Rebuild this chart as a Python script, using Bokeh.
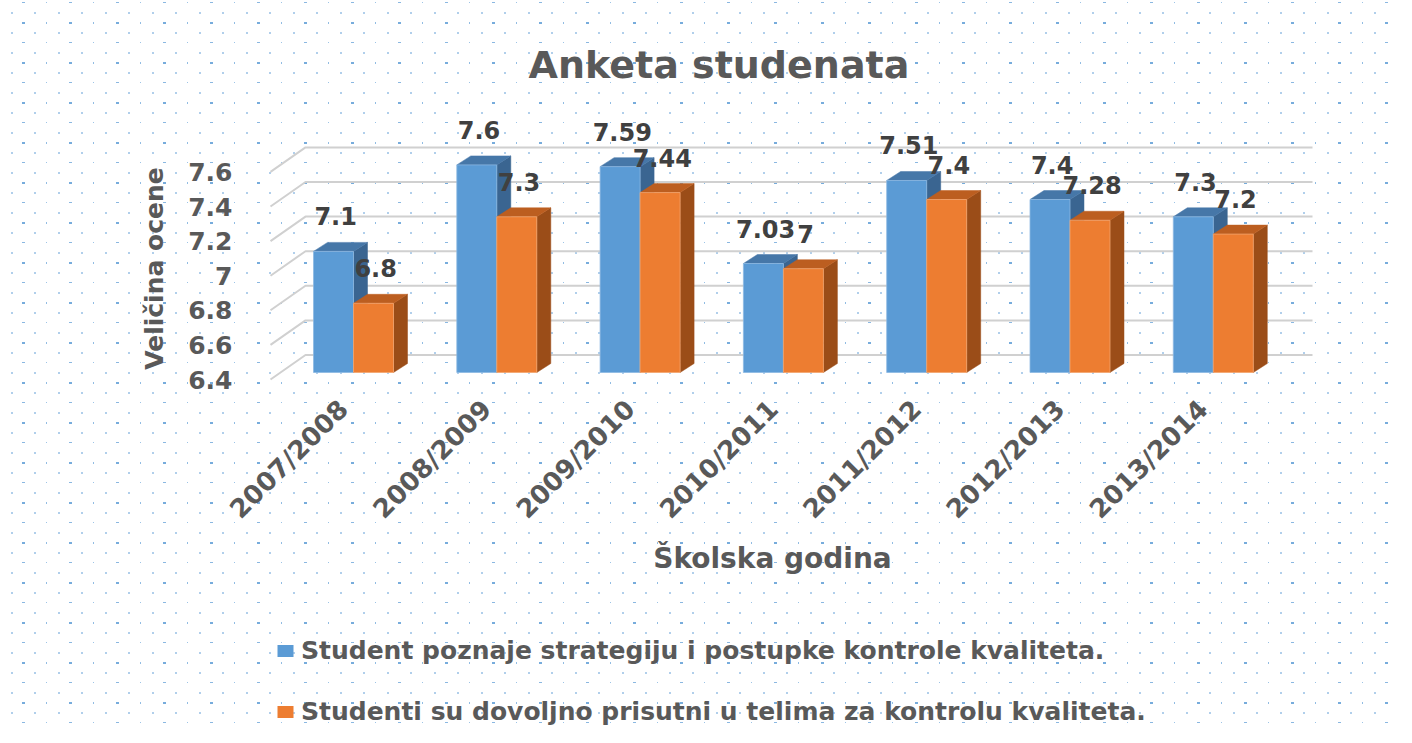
import math, zlib, struct, base64
from bokeh.plotting import figure
from bokeh.layouts import column
from bokeh.models import (Range1d, LinearAxis, FixedTicker, Legend, LegendItem, LabelSet,
                          ColumnDataSource)
from bokeh.core.properties import value
from bokeh.embed import file_html
from bokeh.resources import INLINE

# ---------------- data ----------------
years = ["2007/2008", "2008/2009", "2009/2010", "2010/2011", "2011/2012", "2012/2013", "2013/2014"]
blue_vals = [7.1, 7.6, 7.59, 7.03, 7.51, 7.4, 7.3]
orange_vals = [6.8, 7.3, 7.44, 7.0, 7.4, 7.28, 7.2]
y_ticks = [6.4, 6.6, 6.8, 7.0, 7.2, 7.4, 7.6]
y_tick_labels = ["6.4", "6.6", "6.8", "7", "7.2", "7.4", "7.6"]
series_names = ["Student poznaje strategiju i postupke kontrole kvaliteta.",
                "Studenti su dovoljno prisutni u telima za kontrolu kvaliteta."]
chart_title = "Anketa studenata"
x_title = "Školska godina"
y_title = "Veličina ocene"

# ---------------- style ----------------
FONT = "DejaVu Sans"
TXT = "#595959"
LBL = "#404040"
BLUE, BLUE_TOP, BLUE_SIDE = "#5B9BD5", "#4677A8", "#3A6591"
ORANGE, ORANGE_TOP, ORANGE_SIDE = "#ED7D31", "#BC5E20", "#9B4D18"
BASE = 6.4
PX_X, PX_Y = 143.3, 173.0          # pixels per data unit
BAR_W = 40 / PX_X
DX, DY = 14 / PX_X, 9 / PX_Y       # bar depth
BACK_DY = 17.5 / PX_Y              # back wall offset
PLANE_DY = 7 / PX_Y                # label plane offset
WALL_FX, WALL_BX, WALL_RX = -83 / PX_X, -48 / PX_X, 959 / PX_X

W, H1, H2 = 1396, 600, 127
FL, FR, FT, FB = 224, 1320, 110, 426       # frame edges in pixels
x0r, x1r = (FL - 353) / PX_X, (FR - 353) / PX_X
y0r, y1r = BASE - (FB - 372) / PX_Y, BASE + (372 - FT) / PX_Y

# dotted background (css texture behind the transparent canvas)
def dot_tile():
    tw, th = 47, 40
    px = [[(255, 255, 255, 255)] * tw for _ in range(th)]
    def put(x, y, w, h, a):
        for yy in range(y, y + h):
            for xx in range(x, x + w):
                k = a / 255
                px[yy % th][xx % tw] = tuple(int(255 * (1 - k) + c * k) for c in (91, 155, 213)) + (255,)
    for yy in (12, 32):
        put(11, yy, 2, 2, 120); put(34, yy, 2, 2, 120)
    put(22, 22, 3, 2, 210); put(46, 22, 1, 2, 170)
    put(22, 2, 3, 1, 180); put(46, 2, 1, 1, 150)
    raw = b"".join(b"\x00" + bytes([c for pix in row for c in pix]) for row in px)
    def chunk(t, d):
        return struct.pack(">I", len(d)) + t + d + struct.pack(">I", zlib.crc32(t + d) & 0xffffffff)
    png = (b"\x89PNG\r\n\x1a\n" + chunk(b"IHDR", struct.pack(">IIBBBBB", tw, th, 8, 6, 0, 0, 0))
           + chunk(b"IDAT", zlib.compress(raw)) + chunk(b"IEND", b""))
    return "data:image/png;base64," + base64.b64encode(png).decode()

BG = {"background-color": "white", "background-image": f"url('{dot_tile()}')",
      "background-repeat": "repeat"}

p = figure(width=W, height=H1, output_backend="svg", toolbar_location=None,
           x_range=Range1d(x0r, x1r), y_range=Range1d(y0r, y1r),
           y_axis_location=None, min_border_left=FL, min_border_right=W - FR,
           min_border_top=FT, min_border_bottom=H1 - FB)
p.outline_line_color = None
p.grid.visible = False
p.background_fill_color = None
p.border_fill_color = None
p.styles = BG

# 3D gridlines (back wall + left wall)
p.multi_line(xs=[[WALL_FX, WALL_BX, WALL_RX] for _ in y_ticks],
             ys=[[t - PLANE_DY, t + BACK_DY, t + BACK_DY] for t in y_ticks],
             line_color="#D0D0D0", line_width=2)

xs = list(range(len(years)))

def bars(vals, offset, front, top, side, edge):
    lefts = [x + offset for x in xs]
    rights = [l + BAR_W for l in lefts]
    p.patches(xs=[[r, r + DX, r + DX, r] for r in rights],
              ys=[[BASE, BASE + DY, v + DY, v] for v in vals],
              fill_color=side, line_color=side, line_width=0.5)
    p.patches(xs=[[l, r, r + DX, l + DX] for l, r in zip(lefts, rights)],
              ys=[[v, v, v + DY, v + DY] for v in vals],
              fill_color=top, line_color=top, line_width=0.5)
    p.quad(left=lefts, right=rights, bottom=[BASE] * len(vals), top=vals,
           fill_color=front, line_color=edge, line_width=0.8)
    return ColumnDataSource(dict(x=[l + BAR_W / 2 + 0.015 for l in lefts],
                                 y=[v + DY + 17 / PX_Y for v in vals],
                                 t=[f"{v:g}" for v in vals]))

s_blue = bars(blue_vals, -BAR_W, BLUE, BLUE_TOP, BLUE_SIDE, "#8DB9E2")
s_orange = bars(orange_vals, 0, ORANGE, ORANGE_TOP, ORANGE_SIDE, "#F3A46F")

for s in (s_blue, s_orange):
    p.add_layout(LabelSet(x="x", y="y", text="t", source=s, text_align="center",
                          text_baseline="alphabetic", text_font=value(FONT), text_font_style="bold",
                          text_font_size="24px", text_color=LBL))

# axes
p.extra_x_ranges = {"xlab": Range1d(x0r + 10 / PX_X, x1r + 10 / PX_X)}
ax = p.xaxis[0]
ax.x_range_name = "xlab"
ax.ticker = FixedTicker(ticks=xs)
ax.major_label_overrides = {i: y for i, y in enumerate(years)}
ax.major_label_orientation = math.pi / 4
ax.axis_line_color = None
ax.major_tick_line_color = None
ax.minor_tick_line_color = None
ax.major_label_standoff = -28
ax.major_label_text_font = FONT
ax.major_label_text_font_style = "bold"
ax.major_label_text_font_size = "26px"
ax.major_label_text_color = TXT
ax.axis_label = x_title
ax.axis_label_text_font = FONT
ax.axis_label_text_font_style = "bold"
ax.axis_label_text_font_size = "28px"
ax.axis_label_text_color = TXT
ax.axis_label_standoff = 4

p.extra_y_ranges = {"lab": Range1d(y0r + PLANE_DY, y1r + PLANE_DY)}
yax = LinearAxis(y_range_name="lab", ticker=FixedTicker(ticks=y_ticks),
                 major_label_overrides={t: l for t, l in zip(y_ticks, y_tick_labels)})
yax.axis_line_color = None
yax.major_tick_line_color = None
yax.minor_tick_line_color = None
yax.major_label_standoff = FL - 238
yax.major_label_text_font = FONT
yax.major_label_text_font_style = "bold"
yax.major_label_text_font_size = "25px"
yax.major_label_text_color = TXT
yax.axis_label = y_title
yax.axis_label_text_font = FONT
yax.axis_label_text_font_style = "bold"
yax.axis_label_text_font_size = "25px"
yax.axis_label_text_color = TXT
yax.axis_label_standoff = 16
p.add_layout(yax, "left")

# title
p.title.text = chart_title
p.title.align = "left"
p.title.offset = 304
p.title.standoff = 48
p.title.text_font = FONT
p.title.text_font_style = "bold"
p.title.text_font_size = "38px"
p.title.text_color = TXT

# legend strip
pl = figure(width=W, height=H2, output_backend="svg", toolbar_location=None,
            x_range=Range1d(0, 1), y_range=Range1d(0, 1),
            x_axis_location=None, y_axis_location=None,
            min_border_left=FL, min_border_right=W - FR, min_border_top=0, min_border_bottom=0)
pl.outline_line_color = None
pl.grid.visible = False
pl.background_fill_color = None
pl.border_fill_color = None
pl.styles = BG
# zero-size proxies that carry the series colours into the legend
lb = pl.quad(left=[0], right=[0], top=[0], bottom=[0], fill_color=BLUE, line_color=None)
lo = pl.quad(left=[0], right=[0], top=[0], bottom=[0], fill_color=ORANGE, line_color=None)
legend = Legend(items=[LegendItem(label=series_names[0], renderers=[lb]),
                       LegendItem(label=series_names[1], renderers=[lo])],
                location=(275 - FL, 1), orientation="vertical",
                glyph_width=20, glyph_height=15, label_height=28, spacing=32,
                padding=0, margin=0, label_standoff=6,
                label_text_font=FONT, label_text_font_style="bold", label_text_font_size="25px",
                label_text_color=TXT, background_fill_alpha=0, border_line_color=None)
pl.add_layout(legend)

layout = column(p, pl, spacing=0)
open("out.html", "w").write(file_html(layout, INLINE))
